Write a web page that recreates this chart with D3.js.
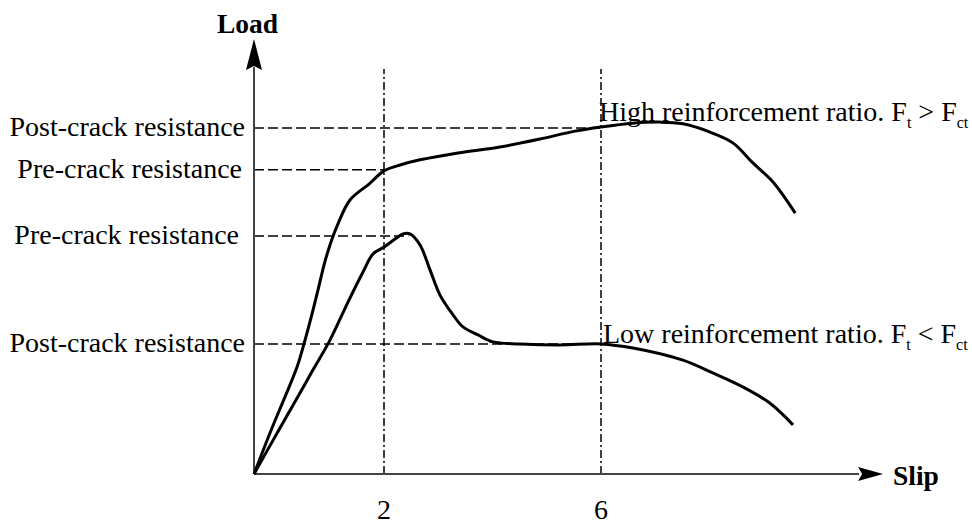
<!DOCTYPE html>
<html>
<head>
<meta charset="utf-8">
<script src="https://cdn.jsdelivr.net/npm/d3@7"></script>
<style>
  html, body { margin: 0; padding: 0; background: #fff; }
  svg { display: block; }
  text { font-family: "Liberation Serif", "Times New Roman", serif; fill: #000; }
</style>
</head>
<body>
<svg id="chart" width="972" height="524"></svg>
<script>
// ---- data (schematic load–slip curves) ----
const highSlip = [0, 0.277, 0.477, 0.662, 0.769, 0.877, 0.985, 1.077, 1.169, 1.292, 1.477, 1.769, 2, 2.295, 2.664, 3.364, 4.138, 4.876, 5.521, 6, 6.59, 7.09, 7.51, 8.01, 8.43, 8.80, 9.17, 9.58];
const highLoad = [0, 13.3, 22.3, 30.9, 37.6, 45.1, 53.2, 60.4, 66.2, 72.3, 79.2, 83.8, 87.6, 89.3, 90.8, 92.8, 94.5, 96.8, 99.1, 100.3, 101.4, 101.7, 101.2, 98.8, 95.7, 89.9, 84.4, 75.4];
const lowSlip = [0, 0.4, 0.646, 0.908, 1.169, 1.446, 1.677, 1.831, 2, 2.203, 2.35, 2.479, 2.664, 2.848, 3.032, 3.272, 3.456, 3.733, 4.009, 4.507, 5.244, 6, 6.59, 7.51, 8.06, 8.62, 9.11, 9.54];
const lowLoad = [0, 13.3, 21.4, 30.1, 38.7, 49.7, 58.4, 63.6, 65.6, 67.9, 69.4, 69.4, 66.2, 59.0, 51.7, 46.0, 42.5, 40.2, 38.2, 37.6, 37.3, 37.6, 36.4, 32.9, 29.2, 25.1, 20.5, 14.2];

const levelLabels = ["Post-crack resistance", "Pre-crack resistance", "Pre-crack resistance", "Post-crack resistance"];
const levelLoads = [100, 87.9, 68.8, 37.6];
const levelSlipEnd = [6, 2, 2.45, 6];

const slipTicks = [2, 6];
const slipTickLabels = ["2", "6"];

const xAxisTitle = "Slip";
const yAxisTitle = "Load";

// ---- layout ----
const svg = d3.select("#chart");
const x = d3.scaleLinear().domain([0, 2, 6]).range([254, 384, 601]);
const y = d3.scaleLinear().domain([0, 100]).range([474, 128]);

const xMax = 11.2;   // end of slip axis arrow
const yMax = 125.7;  // top of load axis arrow
const FS = 28;

// reference level lines (dashed)
svg.append("g").selectAll("line").data(levelLoads).join("line")
  .attr("x1", x(0)).attr("x2", (d, i) => x(levelSlipEnd[i]))
  .attr("y1", d => y(d)).attr("y2", d => y(d))
  .attr("stroke", "#000").attr("stroke-width", 1.5)
  .attr("stroke-dasharray", "10,4");

// vertical slip marks (dash-dot)
svg.append("g").selectAll("line").data(slipTicks).join("line")
  .attr("x1", d => x(d)).attr("x2", d => x(d))
  .attr("y1", y(0)).attr("y2", 69)
  .attr("stroke", "#000").attr("stroke-width", 1.5)
  .attr("stroke-dasharray", "8,3,2,3");

// axes
const axisColor = "#444";
svg.append("line").attr("x1", x(0)).attr("x2", x(xMax) - 24)
  .attr("y1", y(0)).attr("y2", y(0)).attr("stroke", axisColor).attr("stroke-width", 2);
svg.append("line").attr("x1", x(0)).attr("x2", x(0))
  .attr("y1", y(0)).attr("y2", y(yMax) + 28).attr("stroke", axisColor).attr("stroke-width", 2);

// arrow heads
const xt = x(xMax), yt = y(0);
svg.append("path")
  .attr("d", `M${xt},${yt} L${xt - 25},${yt - 7} L${xt - 21},${yt} L${xt - 25},${yt + 7} Z`)
  .attr("fill", "#000");
const ax = x(0), ay = y(yMax);
svg.append("path")
  .attr("d", `M${ax},${ay} L${ax - 8},${ay + 31} L${ax},${ay + 27} L${ax + 8},${ay + 31} Z`)
  .attr("fill", "#000");

// curves
const line = d3.line().x(d => x(d[0])).y(d => y(d[1])).curve(d3.curveCatmullRom.alpha(0.5));
svg.append("path").datum(highSlip.map((s, i) => [s, highLoad[i]]))
  .attr("d", line).attr("fill", "none").attr("stroke", "#000").attr("stroke-width", 3)
  .attr("stroke-linejoin", "round");
svg.append("path").datum(lowSlip.map((s, i) => [s, lowLoad[i]]))
  .attr("d", line).attr("fill", "none").attr("stroke", "#000").attr("stroke-width", 3)
  .attr("stroke-linejoin", "round");

// level labels
const labelRight = [245, 242, 239, 245];
svg.append("g").selectAll("text").data(levelLabels).join("text")
  .attr("x", (d, i) => labelRight[i])
  .attr("y", (d, i) => y(levelLoads[i]) + 8)
  .attr("text-anchor", "end")
  .attr("font-size", FS)
  .text(d => d);

// slip tick labels
svg.append("g").selectAll("text").data(slipTicks).join("text")
  .attr("x", d => x(d)).attr("y", 519)
  .attr("text-anchor", "middle").attr("font-size", FS)
  .text((d, i) => slipTickLabels[i]);

// axis titles
svg.append("text").attr("x", 893).attr("y", 485)
  .attr("font-size", 27.5).attr("font-weight", "bold").text(xAxisTitle);
svg.append("text").attr("x", 217).attr("y", 33)
  .attr("font-size", 27.5).attr("font-weight", "bold").text(yAxisTitle);

// curve annotations with subscripts
function annot(xp, yp, main, sub1, mid, sub2) {
  const t = svg.append("text").attr("x", xp).attr("y", yp).attr("font-size", FS);
  t.append("tspan").text(main);
  t.append("tspan").attr("font-size", 16).attr("dy", 7).text(sub1);
  t.append("tspan").attr("dy", -7).text(mid);
  t.append("tspan").attr("font-size", 16).attr("dy", 7).text(sub2);
}
annot(x(6) - 2, y(100) - 7, "High reinforcement ratio. F", "t", " > F", "ct");
annot(x(6) + 2, y(levelLoads[3]) - 1, "Low reinforcement ratio. F", "t", " < F", "ct");
</script>
</body>
</html>
